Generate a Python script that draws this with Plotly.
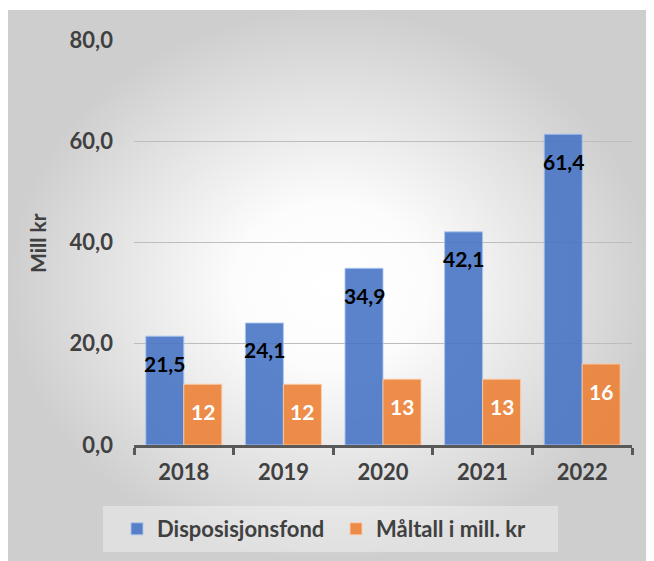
import plotly.graph_objects as go

# ---- data ----
years = ["2018", "2019", "2020", "2021", "2022"]
disposisjonsfond = [21.5, 24.1, 34.9, 42.1, 61.4]
maltall = [12, 12, 13, 13, 16]
y_tickvals = [0, 20, 40, 60, 80]
series_names = ["Disposisjonsfond", "Måltall i mill. kr"]
y_title = "Mill kr"

# page body adds an 8px offset; figure is sized to the visible window area
OFF = 8
W, H = 654 - OFF, 561 - OFF
FONT = "Lato"
TXT = "#404040"
BARGAP = 0.237


def px(x):  # reference pixel x -> paper fraction
    return (x - OFF) / W


def py(y):  # reference pixel y -> paper fraction
    return (H - (y - OFF)) / H


fig = go.Figure()

# background panel with radial gradient (pixel coordinate helper axes)
fig.add_trace(go.Scatter(
    x=[0, W, W, 0, 0], y=[2, 2, H, H, 2],
    fill="toself", mode="lines", line=dict(width=0),
    fillgradient=dict(type="radial",
                      colorscale=[[0, "#ffffff"], [0.3, "#fcfcfc"],
                                  [0.7, "#e2e2e2"], [1, "#cecece"]]),
    hoverinfo="skip", showlegend=False, xaxis="x", yaxis="y"))

fig.add_trace(go.Bar(
    name=series_names[0], x=years, y=disposisjonsfond,
    marker=dict(color="rgba(68,114,196,0.88)",
                line=dict(color="rgba(170,198,238,0.9)", width=1)),
    xaxis="x2", yaxis="y2"))
fig.add_trace(go.Bar(
    name=series_names[1], x=years, y=maltall,
    marker=dict(color="rgba(237,125,49,0.88)",
                line=dict(color="rgba(250,205,170,0.9)", width=1)),
    xaxis="x2", yaxis="y2"))

off = (1 - BARGAP) / 4
annotations = []
for i, v in enumerate(disposisjonsfond):
    annotations.append(dict(
        x=i - off, y=v, xref="x2", yref="y2", text=f"{v:.1f}".replace(".", ","),
        showarrow=False, yanchor="middle", yshift=-27,
        font=dict(family=FONT, size=21, color="black", weight="bold")))
for i, v in enumerate(maltall):
    annotations.append(dict(
        x=i + off, y=v, xref="x2", yref="y2", text=f"{v:g}",
        showarrow=False, yanchor="middle", yshift=-27,
        font=dict(family=FONT, size=21, color="white", weight="bold")))
annotations.append(dict(
    x=px(38), y=py(243), xref="paper", yref="paper", text=y_title,
    textangle=-90, showarrow=False, xanchor="center", yanchor="middle",
    font=dict(family=FONT, size=21, color=TXT, weight="bold")))

tickfont = dict(family=FONT, size=22, color=TXT, weight="bold")

fig.update_layout(
    width=W, height=H, margin=dict(l=0, r=0, t=0, b=0, pad=0, autoexpand=False),
    paper_bgcolor="white", plot_bgcolor="rgba(0,0,0,0)",
    separators=", ",
    barmode="group", bargap=BARGAP, bargroupgap=0,
    xaxis=dict(domain=[0, 1], range=[0, W], visible=False, fixedrange=True),
    yaxis=dict(domain=[0, 1], range=[H, 0], visible=False, fixedrange=True),
    xaxis2=dict(domain=[px(134), px(632)], anchor="y2", type="category",
                showline=True, linecolor="#595959", linewidth=3,
                ticks="outside", tickson="boundaries", ticklen=7, tickwidth=3,
                tickcolor="#595959", tickfont=tickfont, showgrid=False,
                ticklabelstandoff=6, automargin=False),
    yaxis2=dict(domain=[py(445), py(40)], anchor="x2",
                range=[0, 80], tickvals=y_tickvals, tickformat=".1f",
                showgrid=True, gridcolor="#bdbdbd", gridwidth=1,
                zeroline=False, showline=False, ticks="",
                tickfont=tickfont, ticklabelstandoff=20, automargin=False),
    legend=dict(orientation="h", x=px(117), xanchor="left",
                y=py(529), yanchor="middle", bgcolor="rgba(0,0,0,0)",
                entrywidth=174, entrywidthmode="pixels",
                font=dict(family=FONT, size=22, color=TXT, weight="bold")),
    shapes=[dict(type="rect", xref="paper", yref="paper",
                 x0=px(103), x1=px(558), y0=py(552), y1=py(506),
                 fillcolor="rgba(255,255,255,0.35)", line=dict(width=0),
                 layer="above")],
    annotations=annotations,
    showlegend=True,
)

fig.write_html("out.html")
